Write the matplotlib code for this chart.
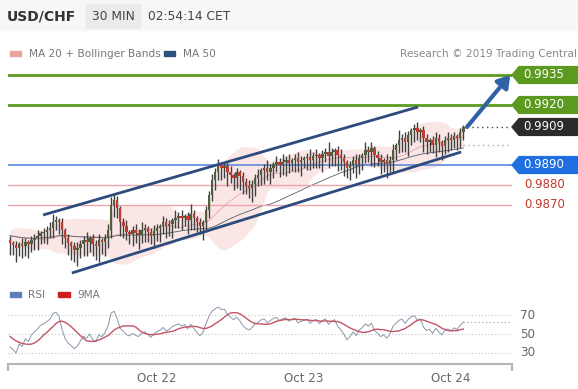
import numpy as np
import pandas as pd
import matplotlib
matplotlib.use("Agg")
import matplotlib.pyplot as plt
import matplotlib.transforms as mtransforms
from matplotlib.patches import Polygon, Rectangle

# ── data: USD/CHF 30 min closes (Oct 21 00:00 -> Oct 24 02:00) ──
prev_closes = [0.98540, 0.98560, 0.98545, 0.98565, 0.98550, 0.98570, 0.98555, 0.98560,
               0.98545, 0.98555, 0.98540, 0.98550, 0.98535, 0.98540, 0.98525]
first_open = 0.98525
closes = [
    0.98510, 0.98500, 0.98485, 0.98505, 0.98495, 0.98515, 0.98505, 0.98525, 0.98535, 0.98545,
    0.98560, 0.98565, 0.98575, 0.98585, 0.98615, 0.98625, 0.98615, 0.98575, 0.98535, 0.98510,
    0.98495, 0.98475, 0.98485, 0.98505, 0.98525, 0.98515, 0.98535, 0.98505, 0.98495, 0.98525,
    0.98515, 0.98535, 0.98575, 0.98700, 0.98725, 0.98685, 0.98615, 0.98595, 0.98565, 0.98555,
    0.98575, 0.98560, 0.98550, 0.98575, 0.98585, 0.98565, 0.98545, 0.98570, 0.98585, 0.98595,
    0.98615, 0.98595, 0.98605, 0.98625, 0.98635, 0.98645, 0.98635, 0.98645, 0.98625, 0.98655,
    0.98635, 0.98615, 0.98595, 0.98615, 0.98675, 0.98750, 0.98825, 0.98865, 0.98900, 0.98885,
    0.98895, 0.98865, 0.98850, 0.98835, 0.98865, 0.98845, 0.98815, 0.98795, 0.98785, 0.98805,
    0.98835, 0.98850, 0.98875, 0.98885, 0.98865, 0.98885, 0.98905, 0.98915, 0.98900, 0.98915,
    0.98925, 0.98910, 0.98925, 0.98935, 0.98915, 0.98925, 0.98935, 0.98940, 0.98925, 0.98945,
    0.98950, 0.98935, 0.98955, 0.98965, 0.98945, 0.98965, 0.98975, 0.98950, 0.98935, 0.98915,
    0.98885, 0.98900, 0.98925, 0.98905, 0.98935, 0.98950, 0.98975, 0.98965, 0.98985, 0.98950,
    0.98935, 0.98915, 0.98925, 0.98905, 0.98925, 0.98975, 0.99000, 0.99025, 0.99035, 0.99015,
    0.99050, 0.99075, 0.99085, 0.99065, 0.99075, 0.99035, 0.99015, 0.99025, 0.99000, 0.99035,
    0.99015, 0.98995, 0.99025, 0.99035, 0.99025, 0.99045, 0.99035, 0.99065, 0.99090,
]
# wick lengths in pips
upper_wick = [
    2, 1, 2, 1, 3, 2, 1, 2, 2, 3,
    1, 2, 2, 3, 4, 2, 1, 2, 1, 2,
    1, 2, 3, 2, 2, 4, 1, 2, 2, 3,
    1, 2, 3, 4, 3, 2, 1, 2, 3, 1,
    2, 3, 2, 4, 2, 1, 2, 3, 2, 1,
    3, 2, 2, 1, 4, 2, 3, 1, 2, 5,
    2, 1, 2, 1, 2, 2, 3, 2, 3, 1,
    2, 2, 3, 1, 2, 1, 2, 2, 3, 2,
    2, 3, 1, 2, 4, 2, 1, 3, 2, 4,
    2, 3, 1, 2, 3, 2, 1, 2, 4, 2,
    3, 1, 2, 2, 5, 2, 1, 2, 3, 2,
    1, 2, 2, 3, 2, 1, 4, 2, 3, 1,
    2, 2, 1, 3, 2, 3, 1, 5, 2, 3,
    2, 1, 2, 3, 1, 2, 2, 1, 2, 3,
    2, 1, 2, 3, 2, 2, 1, 2, 1,
]
lower_wick = [
    6, 5, 7, 4, 6, 5, 7, 4, 5, 6,
    4, 5, 6, 4, 5, 4, 6, 7, 5, 6,
    7, 6, 8, 5, 6, 7, 5, 6, 7, 8,
    6, 7, 5, 4, 6, 5, 7, 6, 4, 5,
    6, 5, 7, 4, 6, 5, 4, 6, 5, 7,
    4, 6, 5, 7, 4, 5, 6, 4, 7, 5,
    6, 5, 4, 7, 5, 4, 3, 5, 4, 6,
    5, 7, 4, 6, 5, 7, 6, 4, 5, 7,
    6, 4, 5, 7, 4, 6, 5, 4, 6, 5,
    7, 5, 4, 6, 5, 7, 4, 6, 5, 4,
    6, 5, 7, 4, 6, 5, 7, 8, 6, 7,
    5, 6, 4, 7, 5, 6, 4, 5, 7, 6,
    4, 6, 5, 7, 4, 6, 5, 4, 6, 5,
    7, 5, 6, 4, 5, 7, 6, 5, 4, 6,
    5, 7, 4, 6, 5, 4, 6, 5, 4,
]

day_ticks = [48, 96, 144]
day_labels = ["Oct 22", "Oct 23", "Oct 24"]

# support / resistance
green_levels = [0.9935, 0.9920]
blue_level = 0.9890
red_levels = [0.9880, 0.9870]
ma_marker = 0.9900

# channel lines (candle index, price)
channel_upper = [(10.8, 0.98650), (133.2, 0.99190)]
channel_lower = [(20.2, 0.98360), (147.3, 0.98965)]
arrow_from = (149.2, 0.99090)
arrow_to = (163.3, 0.99350)

# ── computations ──
n = len(closes)
idx = np.arange(n)
c = np.array(closes)
o = np.r_[first_open, c[:-1]]
hi = np.maximum(o, c) + np.array(upper_wick) * 0.0001
lo = np.minimum(o, c) - np.array(lower_wick) * 0.0001

full = pd.Series(prev_closes + closes)
ma20 = full.rolling(20, min_periods=1).mean()
sd20 = full.rolling(20, min_periods=2).std().bfill()
ma50 = full.rolling(50, min_periods=1).mean()
bb_up = (ma20 + 2 * sd20).values[-n:]
bb_lo = (ma20 - 2 * sd20).values[-n:]
ma20 = ma20.values[-n:]
ma50 = ma50.values[-n:]

d = full.diff()
gain = d.clip(lower=0).ewm(alpha=1 / 14).mean()
loss = (-d.clip(upper=0)).ewm(alpha=1 / 14).mean()
rsi = 100 - 100 / (1 + gain / loss)
rsi_ma = rsi.rolling(9, min_periods=1).mean()
rsi = rsi.values[-n:]
rsi_ma = rsi_ma.values[-n:]

# ── figure ──
W, H = 578, 389
fig = plt.figure(figsize=(W / 100, H / 100), dpi=100)
fig.patch.set_facecolor("white")


def px_axes(left, top, right, bottom):
    return fig.add_axes([left / W, 1 - bottom / H, (right - left) / W, (bottom - top) / H])


def fx(x):
    return x / W


def fy(y):
    return 1 - y / H


XLIM = (-0.65, 163.9)

# header
fig.patches.append(Rectangle((0, fy(30)), 1, 30 / H, transform=fig.transFigure,
                             color="#f7f7f7", zorder=0))
fig.patches.append(Rectangle((fx(86), fy(28)), 54 / W, 24 / H, transform=fig.transFigure,
                             color="#ebebeb", zorder=1))
fig.text(fx(7), fy(16), "USD/CHF", fontsize=10, fontweight="bold", color="#333333", va="center")
fig.text(fx(113), fy(16), "30 MIN", fontsize=8.8, color="#444444", va="center", ha="center")
fig.text(fx(148), fy(16), "02:54:14 CET", fontsize=8.8, color="#444444", va="center")

fig.patches.append(Rectangle((fx(10), fy(56)), 11 / W, 5 / H, transform=fig.transFigure,
                             color="#e8a29c"))
fig.text(fx(29), fy(54), "MA 20 + Bollinger Bands", fontsize=7.6, color="#777777", va="center")
fig.patches.append(Rectangle((fx(164), fy(56)), 11 / W, 5 / H, transform=fig.transFigure,
                             color="#2f5283"))
fig.text(fx(183), fy(54), "MA 50", fontsize=7.6, color="#777777", va="center")
fig.text(fx(577), fy(54), "Research \u00a9 2019 Trading Central", fontsize=7.6,
         color="#888888", va="center", ha="right")

# ── main price panel ──
ax = px_axes(8, 62, 512, 282)
ax.set_xlim(*XLIM)
ax.set_ylim(0.98315, 0.99415)
ax.axis("off")

ax.fill_between(idx, bb_lo, bb_up, color="#fbe0e0", alpha=0.8, lw=0, zorder=1)
ax.plot(idx, ma20, color="#e6a3a3", lw=0.6, zorder=2)
ax.plot(idx, ma50, color="#555f70", lw=0.6, zorder=2)

for lv in green_levels:
    ax.axhline(lv, color="#5b9a1f", lw=2, zorder=3)
ax.axhline(blue_level, color="#6593dd", lw=1.3, zorder=3)
for lv in red_levels:
    ax.axhline(lv, color="#eba6ad", lw=1, zorder=3)

up = c >= o
body_bot = np.minimum(o, c)
body_h = np.maximum(np.abs(c - o), 0.00005)
ax.vlines(idx, lo, hi, color="#404040", lw=1.0, zorder=4)
ax.bar(idx[up], body_h[up], bottom=body_bot[up], width=0.8, color="#535d3c", lw=0, zorder=5)
ax.bar(idx[~up], body_h[~up], bottom=body_bot[~up], width=0.8, color="#c23b30", lw=0, zorder=5)

for line in (channel_upper, channel_lower):
    xs, ys = zip(*line)
    ax.plot(xs, ys, color="#2d4b7c", lw=2, solid_capstyle="butt", zorder=6)

ax.annotate("", xy=arrow_to, xytext=arrow_from,
            arrowprops=dict(arrowstyle="-|>,head_length=0.7,head_width=0.45", lw=3,
                            color="#2f63a5", shrinkA=0, shrinkB=0), zorder=7)

ax.plot([arrow_from[0], 163.3], [c[-1], c[-1]], ls=(0, (1, 2.5)), color="#444444", lw=1)
ax.plot([147.8, 163.3], [ma_marker, ma_marker], ls=(0, (1, 2.5)), color="#aaaaaa", lw=1)

# right-hand price tags
blend = mtransforms.blended_transform_factory(ax.transAxes, ax.transData)
tag_h = 0.00042


def tag(level, face, text_color="white"):
    pts = [(1.0, level), (1.014, level + tag_h), (1.135, level + tag_h),
           (1.135, level - tag_h), (1.014, level - tag_h)]
    ax.add_patch(Polygon(pts, closed=True, transform=blend, color=face,
                         clip_on=False, zorder=8))
    ax.text(1.0636, level, f"{level:.4f}", transform=blend, color=text_color,
            fontsize=8.5, ha="center", va="center", clip_on=False, zorder=9)


for lv in green_levels:
    tag(lv, "#5b9a1f")
tag(c[-1], "#2b2b2b")
tag(blue_level, "#1f6fe3")
for lv in red_levels:
    ax.text(1.0656, lv + 0.00003, f"{lv:.4f}", transform=blend, color="#c0392b",
            fontsize=8.5, ha="center", va="center", clip_on=False)

# ── RSI panel ──
fig.patches.append(Rectangle((fx(10), fy(297)), 11 / W, 5 / H, transform=fig.transFigure,
                             color="#5c7fb8"))
fig.text(fx(28), fy(295), "RSI", fontsize=7.6, color="#777777", va="center")
fig.patches.append(Rectangle((fx(58), fy(297)), 12 / W, 5 / H, transform=fig.transFigure,
                             color="#cc2020"))
fig.text(fx(77), fy(295), "9MA", fontsize=7.6, color="#777777", va="center")

ax2 = px_axes(8, 300, 512, 364)
ax2.set_xlim(*XLIM)
ax2.set_ylim(17.9, 86.5)
for side in ("top", "left", "right"):
    ax2.spines[side].set_visible(False)
ax2.spines["bottom"].set_color("#b4b4b4")
ax2.spines["bottom"].set_linewidth(1.5)
ax2.set_yticks([])
ax2.set_xticks(day_ticks)
ax2.set_xticklabels(day_labels, fontsize=8.6, color="#666666")
ax2.tick_params(axis="x", which="major", length=0, pad=6)
ax2.set_xticks(list(XLIM), minor=True)
ax2.tick_params(axis="x", which="minor", length=5, width=1.5, color="#b4b4b4")

for lv in (30, 50, 70):
    ax2.axhline(lv, color="#c4c4c4", lw=0.8, ls=(0, (1, 2)))
    ax2.text(1.0315, lv, str(lv), transform=mtransforms.blended_transform_factory(
        ax2.transAxes, ax2.transData), fontsize=8.6, color="#666666",
        ha="center", va="center", clip_on=False)

ax2.plot(idx, rsi, color="#8b97ab", lw=0.7)
ax2.plot(idx, rsi_ma, color="#c25566", lw=1.0)
ax2.plot([idx[-1], XLIM[1]], [rsi[-1], rsi[-1]], ls=(0, (1, 2)), color="#aaaaaa", lw=0.9)

fig.savefig("out.png", dpi=100, facecolor="white")
